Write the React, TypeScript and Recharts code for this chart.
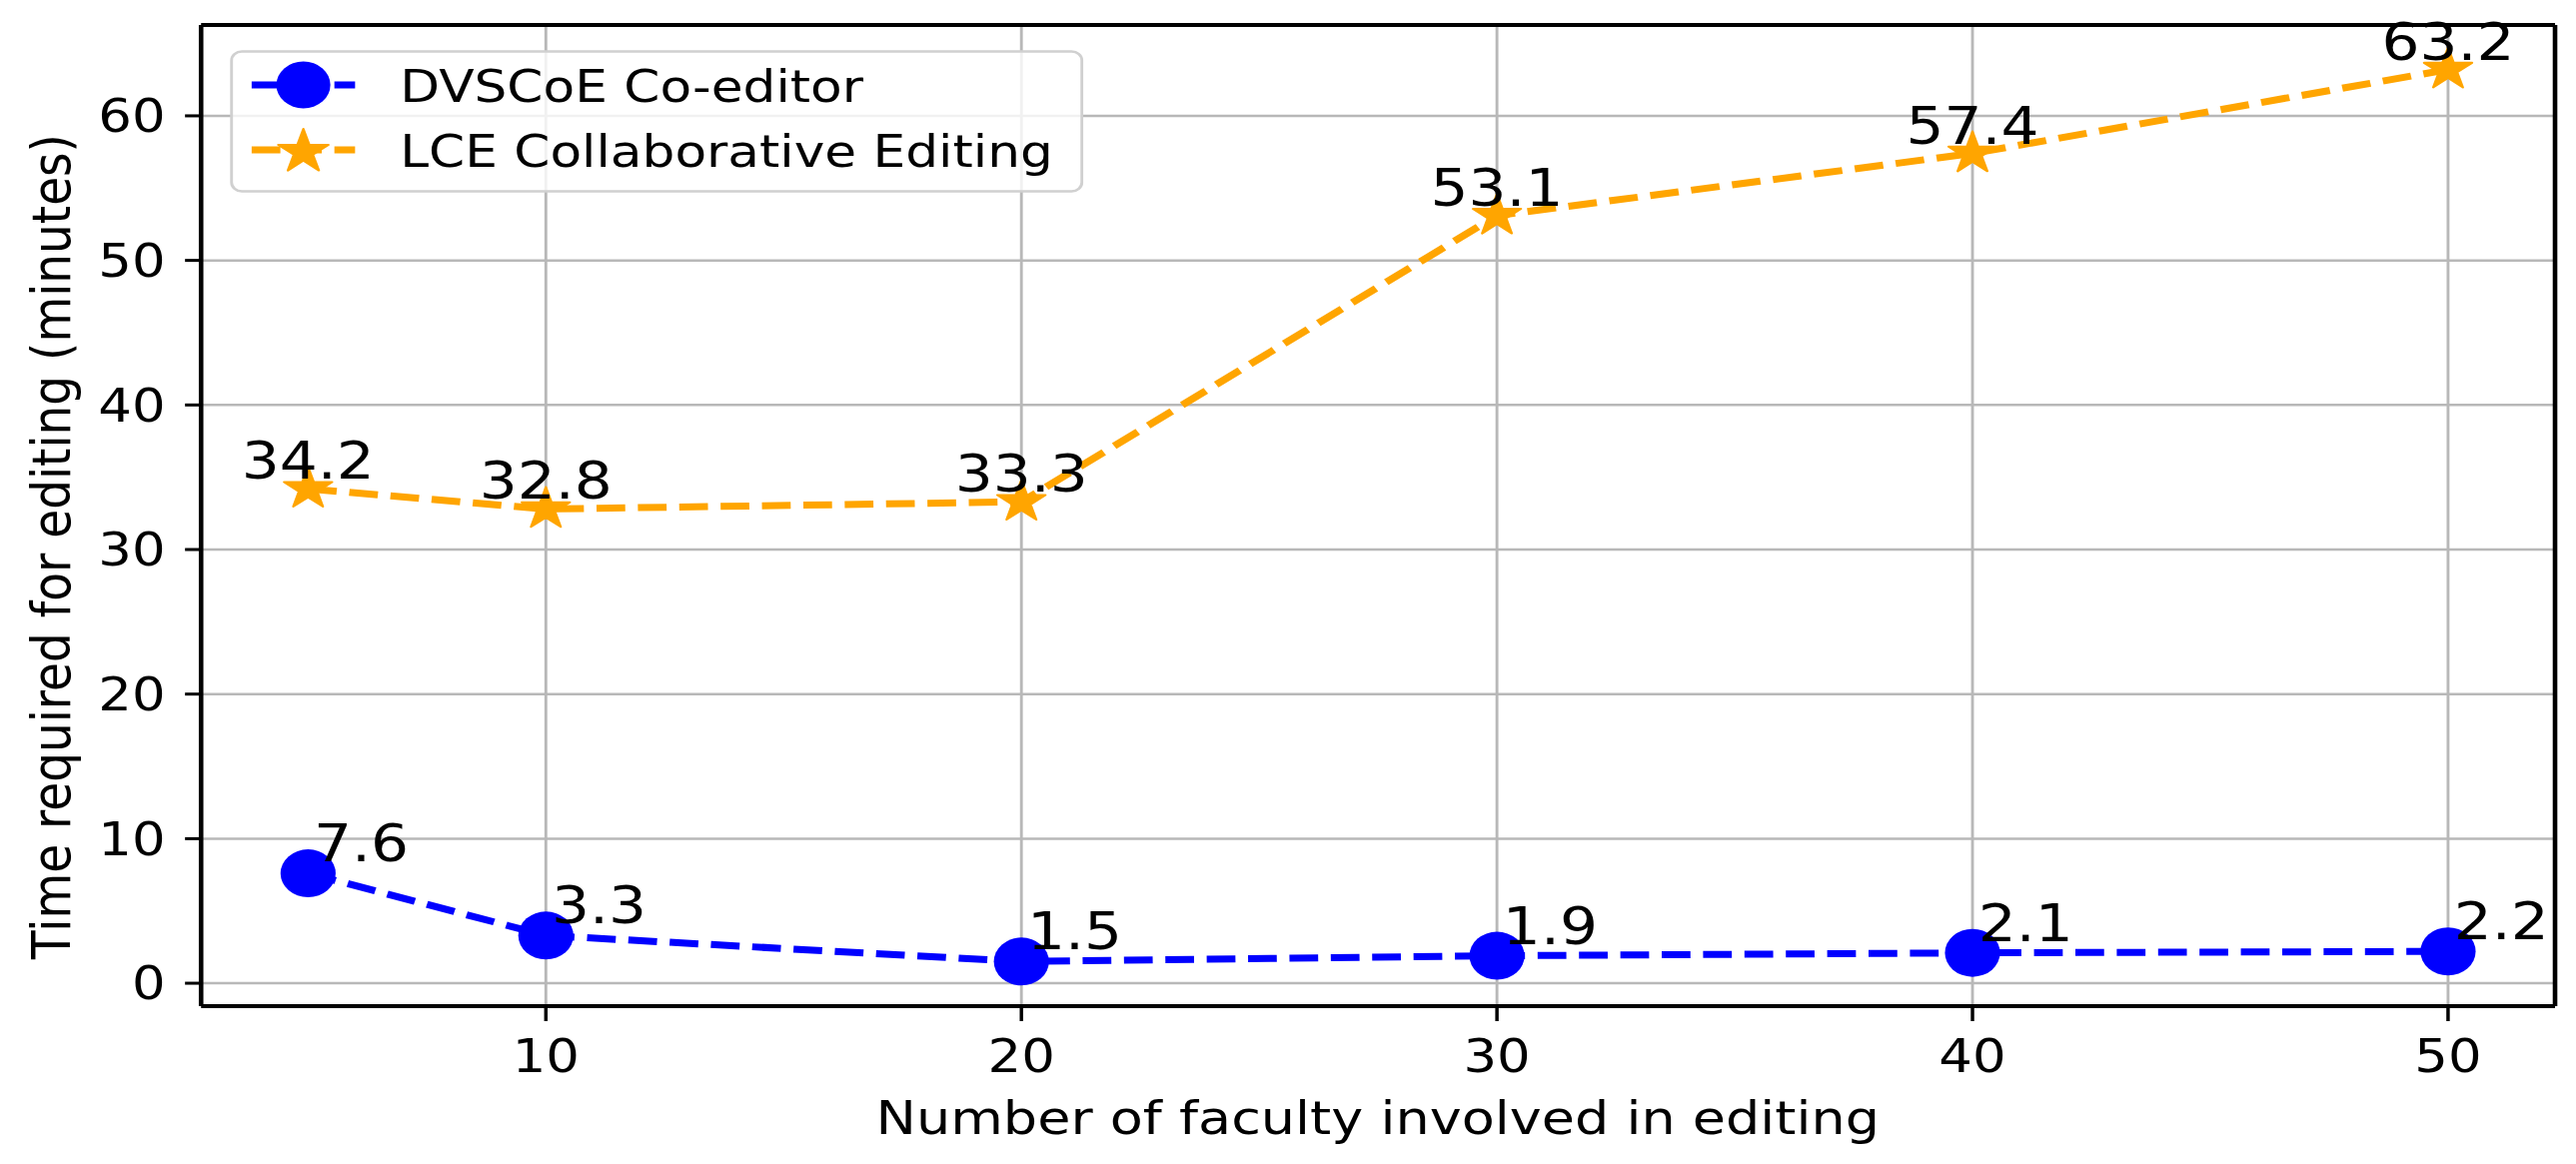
import React from 'react'
import { LineChart, Line, XAxis, YAxis, CartesianGrid, Legend, LabelList, Label, ReferenceLine } from 'recharts'

// values
const faculty = [5, 10, 20, 30, 40, 50]
const dvscoe = [7.6, 3.3, 1.5, 1.9, 2.1, 2.2]
const lce = [34.2, 32.8, 33.3, 53.1, 57.4, 63.2]
const xTicks = [10, 20, 30, 40, 50]
const yTicks = [0, 10, 20, 30, 40, 50, 60]

const data = faculty.map((f, i) => ({ faculty: f, dvscoe: dvscoe[i], lce: lce[i] }))

// the source image is stretched sideways; draw narrow and widen the whole chart
const SX = 1.15
const W = 2241
const H = 1165
const FONT = 'DejaVu Sans'
const BLUE = '#0000ff'
const ORANGE = '#ffa500'
const X_DOMAIN: [number, number] = [2.75, 52.25]
const Y_DOMAIN: [number, number] = [-1.585, 66.285]

function starPoints(cx: number, cy: number, r: number) {
  const pts: string[] = []
  for (let i = 0; i < 10; i++) {
    const a = -Math.PI / 2 + (i * Math.PI) / 5
    const rr = i % 2 === 0 ? r : r * 0.382
    pts.push(`${cx + rr * Math.cos(a)},${cy + rr * Math.sin(a)}`)
  }
  return pts.join(' ')
}

const circleDot = (props: any) => {
  const { cx, cy, index } = props
  if (cx == null || cy == null) return <g key={`c${index}`} />
  return <circle key={`c${index}`} cx={cx} cy={cy} r={24} fill={BLUE} />
}

const starDot = (props: any) => {
  const { cx, cy, index } = props
  if (cx == null || cy == null) return <g key={`s${index}`} />
  return (
    <polygon
      key={`s${index}`}
      points={starPoints(cx, cy, 22)}
      fill={ORANGE}
      stroke={ORANGE}
      strokeWidth={2}
      strokeLinejoin="round"
    />
  )
}

const blueLabel = (props: any) => {
  const { x, y, value } = props
  return (
    <text x={x + 5} y={y - 12} fontSize={52} fill="#000" textAnchor="start">
      {value}
    </text>
  )
}

const orangeLabel = (props: any) => {
  const { x, y, value } = props
  return (
    <text x={x} y={y - 10} fontSize={52} fill="#000" textAnchor="middle">
      {value}
    </text>
  )
}

const renderLegend = (props: any) => {
  const payload = props.payload || []
  return (
    <svg width={743} height={143} style={{ display: 'block', fontFamily: FONT }}>
      <rect x={1.5} y={1.5} width={740} height={140} rx={9} fill="#fff" fillOpacity={0.8} stroke="#d0d0d0" strokeWidth={2.5} />
      {payload.map((p: any, i: number) => {
        const cy = 35 + i * 65
        const star = p.dataKey === 'lce'
        return (
          <g key={i}>
            <line x1={19} x2={109} y1={cy} y2={cy} stroke={p.color} strokeWidth={7} strokeDasharray="25 11" />
            {star ? (
              <polygon points={starPoints(64, cy + 2, 23)} fill={ORANGE} stroke={ORANGE} strokeWidth={2} strokeLinejoin="round" />
            ) : (
              <circle cx={64} cy={cy} r={23.5} fill={BLUE} />
            )}
            <text x={148} y={cy + 16.7} fontSize={45} fill="#000">
              {p.value}
            </text>
          </g>
        )
      })}
    </svg>
  )
}

const xTitle = () => (
  <text x={1199} y={1135} fontSize={47} fill="#000" textAnchor="middle">
    Number of faculty involved in editing
  </text>
)

const yTitle = () => (
  <text x={0} y={0} fontSize={47} fill="#000" textAnchor="middle" transform="translate(61,547) rotate(-90)">
    Time required for editing (minutes)
  </text>
)

export default function App() {
  return (
    <div style={{ position: 'absolute', left: 0, top: 0, width: 2578, height: 1165, overflow: 'hidden', background: '#fff' }}>
      <div style={{ transform: `scaleX(${SX})`, transformOrigin: '0 0', width: W, height: H, fontFamily: FONT }}>
        <LineChart width={W} height={H} data={data} margin={{ top: 25, right: 17.5, bottom: 8, left: 35 }}>
          <CartesianGrid stroke="#b8b8b8" strokeWidth={2.5} />
          <XAxis
            dataKey="faculty"
            type="number"
            domain={X_DOMAIN}
            ticks={xTicks}
            height={150}
            tickSize={15}
            tickMargin={18}
            tick={{ fontSize: 46, fill: '#000' }}
            tickLine={{ stroke: '#000', strokeWidth: 3 }}
            axisLine={{ stroke: '#000', strokeWidth: 4 }}
          >
            <Label content={xTitle} />
          </XAxis>
          <YAxis
            type="number"
            domain={Y_DOMAIN}
            ticks={yTicks}
            width={140}
            tickSize={14}
            tickMargin={17}
            tick={{ fontSize: 46, fill: '#000' }}
            tickLine={{ stroke: '#000', strokeWidth: 3 }}
            axisLine={{ stroke: '#000', strokeWidth: 4 }}
          >
            <Label content={yTitle} />
          </YAxis>
          {/* top and right edges of the axes box */}
          <ReferenceLine y={Y_DOMAIN[1]} stroke="#000" strokeWidth={4} />
          <ReferenceLine x={X_DOMAIN[1]} stroke="#000" strokeWidth={4} />
          <Legend
            layout="vertical"
            align="center"
            verticalAlign="middle"
            content={renderLegend}
            wrapperStyle={{ left: 200, top: 50, width: 743, height: 143 }}
          />
          <Line
            type="linear"
            dataKey="dvscoe"
            name="DVSCoE Co-editor"
            stroke={BLUE}
            strokeWidth={7}
            strokeDasharray="25 11"
            dot={circleDot}
            activeDot={false}
            isAnimationActive={false}
          >
            <LabelList dataKey="dvscoe" content={blueLabel} />
          </Line>
          <Line
            type="linear"
            dataKey="lce"
            name="LCE Collaborative Editing"
            stroke={ORANGE}
            strokeWidth={7}
            strokeDasharray="25 11"
            dot={starDot}
            activeDot={false}
            isAnimationActive={false}
          >
            <LabelList dataKey="lce" content={orangeLabel} />
          </Line>
        </LineChart>
      </div>
    </div>
  )
}
